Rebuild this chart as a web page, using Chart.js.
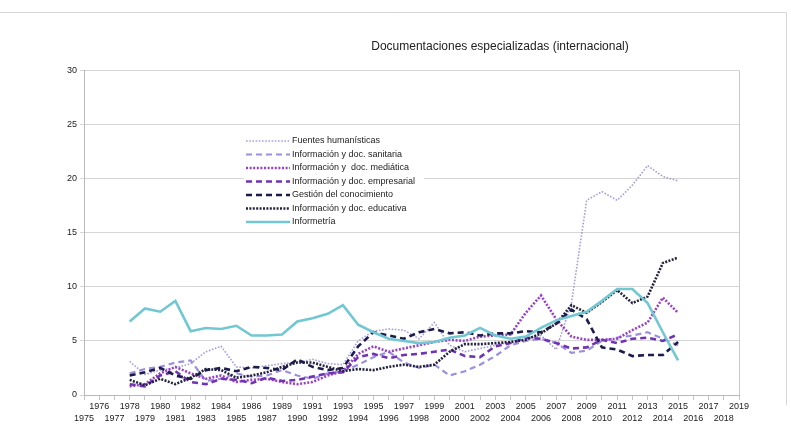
<!DOCTYPE html>
<html>
<head>
<meta charset="utf-8">
<script src="https://cdn.jsdelivr.net/npm/chart.js@4"></script>
<style>
    html, body { margin: 0; padding: 0; background: #fff; }
    #wrap { width: 791px; height: 431px; position: relative; }
</style>
</head>
<body>
<div id="wrap"><canvas id="myChart" width="791" height="431"></canvas></div>
<script>
// years on the category axis (1988 is missing in the original)
const years = ['1975', '1976', '1977', '1978', '1979', '1980', '1981', '1982', '1983', '1984', '1985', '1986', '1987',
    '1989', '1990', '1991', '1992', '1993', '1994', '1995', '1996', '1997', '1998', '1999', '2000', '2001', '2002',
    '2003', '2004', '2005', '2006', '2007', '2008', '2009', '2010', '2011', '2012', '2013', '2014', '2015', '2016',
    '2017', '2018', '2019'];

const fuentes = [null, null, null,
    3.1, 1.9, 2.3, 2.5, 2.9, 4.0, 4.5, 2.6, 2.5, 2.7,
    2.9, 3.0, 3.3, 2.9, 2.8, 5.0, 5.9, 6.1, 6.0, 5.2, 6.7, 4.6, 4.0, 4.3,
    4.6, 4.9, 5.2, 5.5, 4.2, 8.5, 18.0, 18.8, 18.0, 19.4, 21.2, 20.2, 19.8,
    null, null, null, null];
const sanitaria = [null, null, null,
    2.0, 2.4, 2.6, 3.0, 3.2, 1.3, 1.5, 2.0, 1.7, 1.8,
    2.3, 1.8, 1.5, 2.0, 2.2, 2.8, 3.5, 4.0, 3.0, 2.5, 2.8, 1.8, 2.2, 2.8,
    3.6, 4.6, 5.0, 5.2, 4.8, 3.9, 4.1, 5.0, 5.3, 5.5, 5.8, 5.2, 4.6,
    null, null, null, null];
const mediatica = [null, null, null,
    0.8, 1.0, 2.0, 2.6, 2.0, 1.5, 1.8, 1.2, 1.4, 1.5,
    1.2, 1.0, 1.2, 1.8, 2.2, 3.8, 4.5, 4.0, 4.3, 4.6, 4.9, 5.1, 5.0, 5.4,
    5.5, 5.6, 7.6, 9.2, 7.0, 5.4, 5.1, 5.1, 5.2, 6.0, 6.7, 9.0, 7.6,
    null, null, null, null];
const empresarial = [null, null, null,
    1.0, 0.8, 1.8, 2.2, 1.2, 1.0, 1.5, 1.4, 1.1, 1.6,
    1.3, 1.4, 1.7, 2.0, 2.1, 3.5, 3.8, 3.4, 3.7, 3.8, 4.0, 4.2, 3.6, 3.5,
    4.5, 4.8, 5.3, 5.2, 4.8, 4.3, 4.4, 5.1, 4.8, 5.2, 5.3, 5.0, 5.6,
    null, null, null, null];
const gestion = [null, null, null,
    1.8, 2.1, 2.5, 1.8, 1.5, 2.3, 2.5, 2.2, 2.6, 2.5,
    2.3, 3.3, 2.6, 2.3, 2.5, 4.5, 5.8, 5.5, 5.2, 5.8, 6.1, 5.7, 5.8, 5.5,
    5.7, 5.7, 5.9, 5.8, 6.6, 7.9, 7.0, 4.4, 4.2, 3.6, 3.7, 3.7, 4.9,
    null, null, null, null];
const educativa = [null, null, null,
    1.4, 0.9, 1.5, 1.0, 1.6, 2.4, 2.3, 1.6, 1.8, 2.1,
    2.6, 3.0, 3.0, 2.6, 2.2, 2.4, 2.3, 2.6, 2.8, 2.6, 2.8, 4.0, 4.7, 4.7,
    4.8, 4.9, 5.1, 5.7, 6.6, 8.3, 7.6, 8.6, 9.7, 8.5, 9.1, 12.2, 12.7,
    null, null, null, null];
const informetria = [null, null, null,
    6.8, 8.0, 7.7, 8.7, 5.9, 6.2, 6.1, 6.4, 5.5, 5.5,
    5.6, 6.8, 7.1, 7.5, 8.3, 6.5, 5.8, 5.2, 5.0, 4.8, 4.9, 5.3, 5.5, 6.2,
    5.5, 5.2, 5.4, 6.2, 6.9, 7.3, 7.7, 8.7, 9.8, 9.8, 8.5, 5.8, 3.2,
    null, null, null, null];

const yTicks = [0, 5, 10, 15, 20, 25, 30];
const title = 'Documentaciones especializadas (internacional)';

const seriesNames = ['Fuentes humanísticas', 'Información y doc. sanitaria', 'Información y  doc. mediática',
    'Información y doc. empresarial', 'Gestión del conocimiento', 'Información y doc. educativa', 'Informetría'];
const seriesData = [fuentes, sanitaria, mediatica, empresarial, gestion, educativa, informetria];
const seriesColors = ['#a49ddf', '#9d8fe0', '#9a3fc6', '#7132b4', '#1b1b4d', '#22223f', '#72c8d2'];
const seriesWidths = [1.6, 2.2, 2.6, 2.6, 2.6, 2.6, 2.6];
const seriesDash = [[1.6, 1.6], [6, 4], [2, 1.6], [6, 4], [6, 4], [2, 1.4], []];

const FONT = '"Liberation Sans", Arial, sans-serif';

const datasets = seriesNames.map((name, i) => ({
    label: name,
    data: seriesData[i],
    borderColor: seriesColors[i],
    backgroundColor: seriesColors[i],
    borderWidth: seriesWidths[i],
    borderDash: seriesDash[i],
    pointRadius: 0,
    tension: 0,
    fill: false,
    spanGaps: false,
    order: seriesNames.length - i
}));

const decorPlugin = {
    id: 'decor',
    beforeDraw(chart) {
        const ctx = chart.ctx;
        ctx.save();
        ctx.fillStyle = '#fff';
        ctx.fillRect(0, 0, chart.width, chart.height);
        ctx.strokeStyle = '#d6d6d6';
        ctx.lineWidth = 1;
        ctx.beginPath();
        ctx.moveTo(0, 12.5);
        ctx.lineTo(786.5, 12.5);
        ctx.lineTo(786.5, 405);
        ctx.stroke();
        ctx.restore();
    },
    afterDatasetsDraw(chart) {
        const ctx = chart.ctx;
        const area = chart.chartArea;
        ctx.save();
        // right border of the plot
        ctx.strokeStyle = '#c8c8c8';
        ctx.lineWidth = 1;
        ctx.beginPath();
        ctx.moveTo(Math.round(area.right) + 0.5, area.top);
        ctx.lineTo(Math.round(area.right) + 0.5, area.bottom);
        ctx.stroke();

        // title
        ctx.fillStyle = '#222';
        ctx.font = '12px ' + FONT;
        ctx.textAlign = 'center';
        ctx.textBaseline = 'middle';
        ctx.fillText(title, 500, 47);

        // legend box inside the plot
        ctx.fillStyle = '#fff';
        ctx.fillRect(244, 132, 180, 97);
        ctx.font = '9px ' + FONT;
        ctx.textAlign = 'left';
        ctx.fillStyle = '#222';
        chart.data.datasets.forEach((ds, i) => {
            const y = 141 + i * 13.5;
            ctx.save();
            ctx.strokeStyle = ds.borderColor;
            ctx.lineWidth = ds.borderWidth;
            ctx.setLineDash(ds.borderDash);
            ctx.beginPath();
            ctx.moveTo(246, y);
            ctx.lineTo(290, y);
            ctx.stroke();
            ctx.restore();
            ctx.fillText(ds.label, 292, y);
        });
        ctx.restore();
    }
};

const ctx = document.getElementById('myChart').getContext('2d');
new Chart(ctx, {
    type: 'line',
    data: {
        labels: years,
        datasets: datasets
    },
    options: {
        responsive: false,
        animation: false,
        events: [],
        layout: {
            padding: { top: 70.5, right: 52, bottom: 0, left: 0 }
        },
        plugins: {
            legend: { display: false },
            title: { display: false },
            tooltip: { enabled: false }
        },
        scales: {
            x: {
                offset: false,
                grid: {
                    drawOnChartArea: false,
                    drawTicks: true,
                    tickLength: 5,
                    color: '#c4c4c4'
                },
                border: { color: '#b8b8b8' },
                ticks: {
                    autoSkip: false,
                    maxRotation: 0,
                    minRotation: 0,
                    padding: 1,
                    color: '#222',
                    font: { family: FONT, size: 9, lineHeight: 1.3 },
                    callback: (val, i) => (i % 2 ? [years[i], ''] : ['', years[i]])
                },
                afterFit: scale => { scale.height = 36; }
            },
            y: {
                min: 0,
                max: 30,
                afterBuildTicks: scale => { scale.ticks = yTicks.map(v => ({ value: v })); },
                grid: {
                    color: '#d6d6d6',
                    tickLength: 4
                },
                border: { color: '#b8b8b8' },
                ticks: {
                    padding: 3,
                    color: '#222',
                    font: { family: FONT, size: 9 }
                },
                afterFit: scale => { scale.width = 84; }
            }
        }
    },
    plugins: [decorPlugin]
});
</script>
</body>
</html>
